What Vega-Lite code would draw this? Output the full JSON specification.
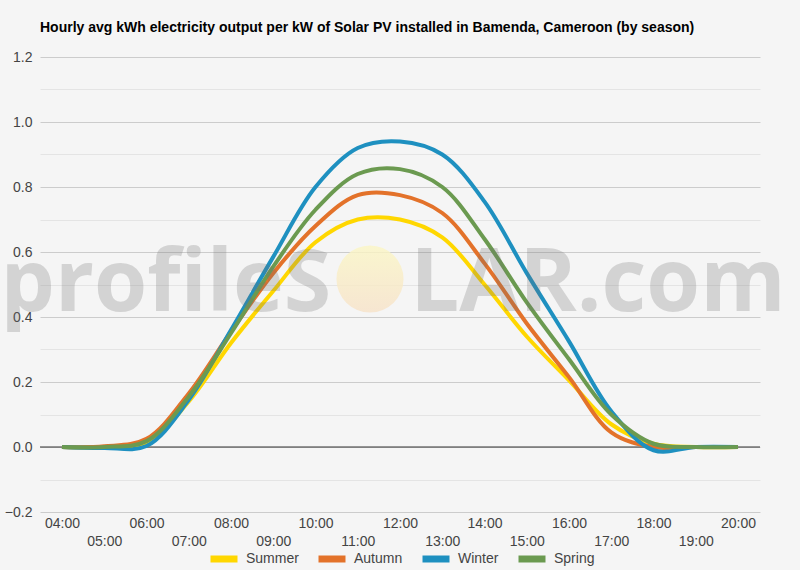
{
  "$schema": "https://vega.github.io/schema/vega-lite/v6.json",
  "width": 720,
  "height": 455,
  "autosize": "none",
  "padding": {"left": 40, "top": 57, "right": 40, "bottom": 58},
  "background": "#f5f5f5",
  "title": {
    "text": "Hourly avg kWh electricity output per kW of Solar PV installed in Bamenda, Cameroon (by season)",
    "anchor": "start",
    "frame": "group",
    "font": "Liberation Sans",
    "fontSize": 14,
    "fontWeight": "bold",
    "color": "#000000",
    "offset": 15
  },
  "config": {
    "view": {"stroke": null},
    "font": "Liberation Sans"
  },
  "data": {
    "values": [
      {"hour": 4, "season": "Summer", "value": 0},
      {"hour": 5, "season": "Summer", "value": 0},
      {"hour": 6, "season": "Summer", "value": 0.012},
      {"hour": 7, "season": "Summer", "value": 0.14},
      {"hour": 8, "season": "Summer", "value": 0.32},
      {"hour": 9, "season": "Summer", "value": 0.48},
      {"hour": 10, "season": "Summer", "value": 0.63},
      {"hour": 11, "season": "Summer", "value": 0.70},
      {"hour": 12, "season": "Summer", "value": 0.70},
      {"hour": 13, "season": "Summer", "value": 0.645},
      {"hour": 14, "season": "Summer", "value": 0.50},
      {"hour": 15, "season": "Summer", "value": 0.34},
      {"hour": 16, "season": "Summer", "value": 0.205},
      {"hour": 17, "season": "Summer", "value": 0.07},
      {"hour": 18, "season": "Summer", "value": 0.01},
      {"hour": 19, "season": "Summer", "value": 0},
      {"hour": 20, "season": "Summer", "value": 0},
      {"hour": 4, "season": "Autumn", "value": 0},
      {"hour": 5, "season": "Autumn", "value": 0.002},
      {"hour": 6, "season": "Autumn", "value": 0.025},
      {"hour": 7, "season": "Autumn", "value": 0.165},
      {"hour": 8, "season": "Autumn", "value": 0.355},
      {"hour": 9, "season": "Autumn", "value": 0.535},
      {"hour": 10, "season": "Autumn", "value": 0.68},
      {"hour": 11, "season": "Autumn", "value": 0.775},
      {"hour": 12, "season": "Autumn", "value": 0.775},
      {"hour": 13, "season": "Autumn", "value": 0.72},
      {"hour": 14, "season": "Autumn", "value": 0.565},
      {"hour": 15, "season": "Autumn", "value": 0.38},
      {"hour": 16, "season": "Autumn", "value": 0.215},
      {"hour": 17, "season": "Autumn", "value": 0.045},
      {"hour": 18, "season": "Autumn", "value": 0},
      {"hour": 19, "season": "Autumn", "value": 0},
      {"hour": 20, "season": "Autumn", "value": 0},
      {"hour": 4, "season": "Winter", "value": 0},
      {"hour": 5, "season": "Winter", "value": -0.003},
      {"hour": 6, "season": "Winter", "value": 0.003},
      {"hour": 7, "season": "Winter", "value": 0.145},
      {"hour": 8, "season": "Winter", "value": 0.36},
      {"hour": 9, "season": "Winter", "value": 0.585},
      {"hour": 10, "season": "Winter", "value": 0.80},
      {"hour": 11, "season": "Winter", "value": 0.92},
      {"hour": 12, "season": "Winter", "value": 0.94},
      {"hour": 13, "season": "Winter", "value": 0.9},
      {"hour": 14, "season": "Winter", "value": 0.755},
      {"hour": 15, "season": "Winter", "value": 0.535},
      {"hour": 16, "season": "Winter", "value": 0.325},
      {"hour": 17, "season": "Winter", "value": 0.11},
      {"hour": 18, "season": "Winter", "value": -0.01},
      {"hour": 19, "season": "Winter", "value": 0},
      {"hour": 20, "season": "Winter", "value": 0},
      {"hour": 4, "season": "Spring", "value": 0},
      {"hour": 5, "season": "Spring", "value": 0},
      {"hour": 6, "season": "Spring", "value": 0.018},
      {"hour": 7, "season": "Spring", "value": 0.155},
      {"hour": 8, "season": "Spring", "value": 0.35},
      {"hour": 9, "season": "Spring", "value": 0.555},
      {"hour": 10, "season": "Spring", "value": 0.73},
      {"hour": 11, "season": "Spring", "value": 0.84},
      {"hour": 12, "season": "Spring", "value": 0.855},
      {"hour": 13, "season": "Spring", "value": 0.8},
      {"hour": 14, "season": "Spring", "value": 0.64},
      {"hour": 15, "season": "Spring", "value": 0.445},
      {"hour": 16, "season": "Spring", "value": 0.27},
      {"hour": 17, "season": "Spring", "value": 0.10},
      {"hour": 18, "season": "Spring", "value": 0.01},
      {"hour": 19, "season": "Spring", "value": 0},
      {"hour": 20, "season": "Spring", "value": 0}
    ]
  },
  "encoding": {
    "x": {
      "field": "hour",
      "type": "quantitative",
      "scale": {"domain": [3.48, 20.52], "nice": false, "zero": false},
      "axis": {
        "title": null,
        "values": [4, 5, 6, 7, 8, 9, 10, 11, 12, 13, 14, 15, 16, 17, 18, 19, 20],
        "labelExpr": "datum.value % 2 == 0 ? (datum.value < 10 ? '0' : '') + datum.value + ':00' : ['', (datum.value < 10 ? '0' : '') + datum.value + ':00']",
        "labelFont": "Liberation Sans",
        "labelFontSize": 14,
        "labelColor": "#444444",
        "labelLineHeight": 18,
        "labelPadding": 4,
        "labelOverlap": false,
        "labelFlush": false,
        "ticks": false,
        "domain": false,
        "grid": false
      }
    },
    "y": {
      "field": "value",
      "type": "quantitative",
      "scale": {"domain": [-0.2, 1.2], "nice": false},
      "axis": {
        "title": null,
        "values": [-0.2, -0.1, 0, 0.1, 0.2, 0.3, 0.4, 0.5, 0.6, 0.7, 0.8, 0.9, 1.0, 1.1, 1.2],
        "labelExpr": "abs(round(datum.value * 10)) % 2 == 1 ? '' : format(datum.value, '.1f')",
        "labelFont": "Liberation Sans",
        "labelFontSize": 14,
        "labelColor": "#444444",
        "labelPadding": 8,
        "ticks": false,
        "domain": false,
        "grid": true,
        "gridColor": {"condition": {"test": "abs(round(datum.value * 10)) % 2 == 1", "value": "#e4e4e4"}, "value": "#cccccc"},
        "gridWidth": 1
      }
    }
  },
  "layer": [
    {
      "transform": [{"filter": "datum.hour == 4 && datum.season == 'Summer'"}],
      "mark": {"type": "rule", "color": "#333333", "strokeWidth": 1},
      "encoding": {"y": {"datum": 0}, "x": {"value": 0}, "x2": {"value": 720}}
    },
    {
      "mark": {"type": "line", "strokeWidth": 4, "interpolate": "catmull-rom"},
      "encoding": {
        "color": {
          "field": "season",
          "type": "nominal",
          "sort": ["Summer", "Autumn", "Winter", "Spring"],
          "scale": {
            "domain": ["Summer", "Autumn", "Winter", "Spring"],
            "range": ["#FFD700", "#E3722A", "#1E90C0", "#6B9A50"]
          },
          "legend": {
            "title": null,
            "orient": "none",
            "legendX": 167,
            "legendY": 485,
            "direction": "horizontal",
            "symbolType": "stroke",
            "symbolSize": 729,
            "symbolStrokeWidth": 7,
            "labelFont": "Liberation Sans",
            "labelFontSize": 14,
            "labelColor": "#444444",
            "labelOffset": 5,
            "columnPadding": 5,
            "padding": 0
          }
        }
      }
    },
    {
      "transform": [{"filter": "datum.hour == 4 && datum.season == 'Summer'"}],
      "mark": {"type": "point", "filled": true, "shape": "circle", "opacity": 0.8,
        "fill": {"gradient": "linear", "x1": 0, "y1": 0, "x2": 0, "y2": 1,
          "stops": [{"offset": 0, "color": "#fbf6c4"}, {"offset": 1, "color": "#f7e2c8"}]},
        "strokeWidth": 0},
      "encoding": {"x": {"datum": 11.29}, "y": {"datum": 0.517}, "size": {"value": 4500}}
    },
    {
      "transform": [{"filter": "datum.hour == 4 && datum.season == 'Summer'"}],
      "mark": {"type": "text", "text": "profileS", "align": "right", "baseline": "alphabetic",
        "font": "Open Sans", "fontSize": 86, "fontWeight": "bold", "fill": "#707070", "fillOpacity": 0.25},
      "encoding": {"x": {"datum": 10.37}, "y": {"datum": 0.42}}
    },
    {
      "transform": [{"filter": "datum.hour == 4 && datum.season == 'Summer'"}],
      "mark": {"type": "text", "text": "LAR.com", "align": "left", "baseline": "alphabetic",
        "font": "Open Sans", "fontSize": 87, "fontWeight": "bold", "fill": "#707070", "fillOpacity": 0.25},
      "encoding": {"x": {"datum": 12.24}, "y": {"datum": 0.42}}
    }
  ]
}
